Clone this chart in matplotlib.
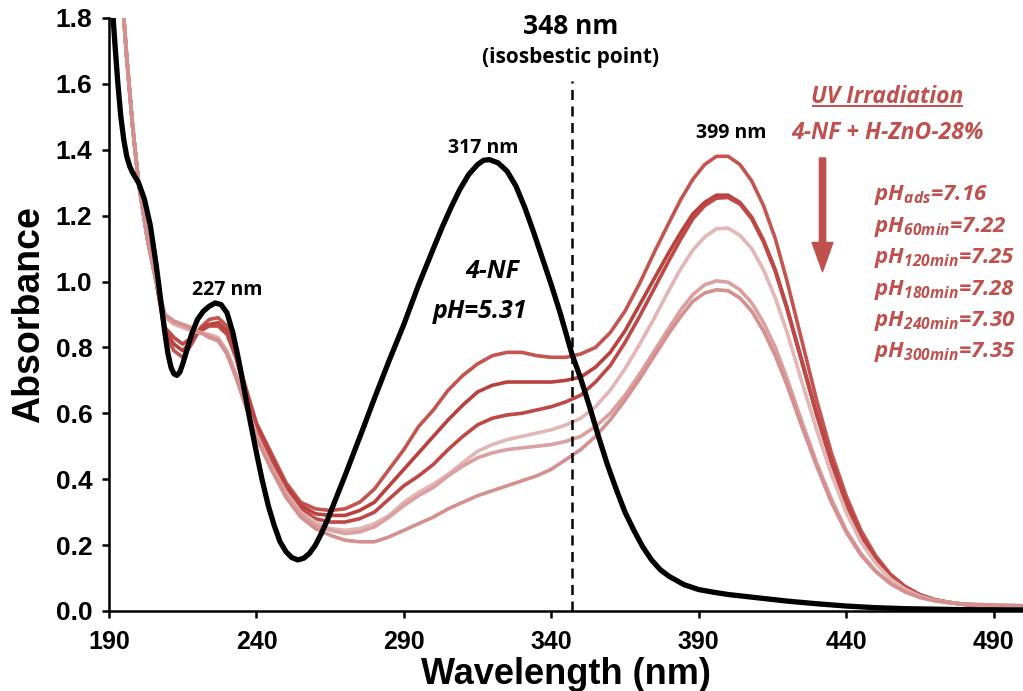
import numpy as np
import matplotlib
matplotlib.use("Agg")
import matplotlib.pyplot as plt

# ---------------- data ----------------
# 4-NF (pH 5.31)
wl_black = [190, 191, 192, 193, 194, 195, 196, 197, 198, 200, 202, 204, 206, 208, 209, 210, 211, 212, 213, 214,
            215, 216, 218, 220, 222, 224, 226, 228, 230, 232, 234, 236, 238, 240, 242, 244, 246, 248, 250, 252,
            254, 256, 258, 260, 262, 264, 266, 268, 270, 273, 276, 280, 285, 290, 295, 300, 303, 306, 309, 312,
            315, 317, 319, 322, 325, 328, 331, 334, 337, 340, 343, 347, 350, 353, 356, 359, 362, 365, 368, 371,
            374, 377, 380, 385, 390, 395, 400, 410, 420, 430, 440, 450, 460, 480, 500]
abs_black = [1.95, 1.85, 1.72, 1.60, 1.50, 1.43, 1.38, 1.35, 1.33, 1.30, 1.25, 1.17, 1.05, 0.91, 0.84, 0.78, 0.74, 0.72, 0.715, 0.725,
             0.75, 0.78, 0.84, 0.885, 0.91, 0.925, 0.935, 0.93, 0.905, 0.845, 0.76, 0.665, 0.57, 0.48, 0.395, 0.32, 0.26, 0.21, 0.18, 0.162,
             0.155, 0.16, 0.175, 0.20, 0.235, 0.275, 0.32, 0.365, 0.41, 0.48, 0.55, 0.645, 0.76, 0.87, 0.99, 1.10, 1.165, 1.225, 1.28, 1.325,
             1.355, 1.368, 1.37, 1.36, 1.335, 1.29, 1.225, 1.15, 1.07, 0.99, 0.905, 0.78, 0.705, 0.62, 0.53, 0.445, 0.37, 0.30, 0.245, 0.195,
             0.155, 0.125, 0.105, 0.08, 0.065, 0.057, 0.05, 0.04, 0.03, 0.022, 0.015, 0.01, 0.007, 0.004, 0.003]

# irradiated samples, common wavelength grid
wl = [190, 192, 194, 196, 198, 200, 203, 206, 209, 212, 215, 218, 221, 224, 227, 230, 233, 236,
      240, 245, 250, 255, 260, 265, 270, 275, 280, 285, 290, 295, 300, 305, 310, 315, 320, 325,
      330, 335, 340, 345, 350, 355, 360, 365, 370, 375, 380, 384, 388, 392, 396, 400, 404, 408,
      412, 416, 420, 425, 430, 435, 440, 445, 450, 455, 460, 465, 470, 475, 480, 490, 500]

abs_ads = [2.40, 2.15, 1.92, 1.68, 1.47, 1.30, 1.13, 1.00, 0.84, 0.79, 0.77, 0.81, 0.86, 0.885, 0.89, 0.865, 0.79, 0.69,
           0.57, 0.48, 0.39, 0.33, 0.31, 0.305, 0.31, 0.33, 0.37, 0.43, 0.49, 0.56, 0.61, 0.67, 0.715, 0.75, 0.775, 0.785,
           0.785, 0.775, 0.77, 0.77,
           0.78, 0.80, 0.845, 0.91, 0.995, 1.09, 1.18, 1.25, 1.31, 1.355, 1.38, 1.38, 1.355, 1.305,
           1.23, 1.13, 1.00, 0.82, 0.64, 0.48, 0.35, 0.245, 0.168, 0.112, 0.075, 0.05, 0.035, 0.026, 0.02, 0.015, 0.012]
abs_60 = [2.40, 2.15, 1.92, 1.68, 1.47, 1.30, 1.13, 1.00, 0.85, 0.81, 0.79, 0.82, 0.855, 0.87, 0.875, 0.85, 0.78, 0.68,
          0.565, 0.47, 0.38, 0.32, 0.295, 0.29, 0.29, 0.305, 0.33, 0.38, 0.43, 0.48, 0.53, 0.58, 0.625, 0.665, 0.685, 0.695,
          0.695, 0.695, 0.695, 0.70,
          0.71, 0.74, 0.785, 0.85, 0.93, 1.01, 1.09, 1.15, 1.205, 1.24, 1.262, 1.262, 1.24, 1.195,
          1.125, 1.035, 0.92, 0.76, 0.60, 0.455, 0.33, 0.23, 0.158, 0.105, 0.07, 0.047, 0.034, 0.026, 0.02, 0.015, 0.012]
abs_120 = [2.40, 2.15, 1.92, 1.68, 1.47, 1.30, 1.13, 1.00, 0.86, 0.83, 0.81, 0.83, 0.85, 0.865, 0.865, 0.84, 0.77, 0.67,
           0.555, 0.46, 0.37, 0.31, 0.28, 0.27, 0.27, 0.28, 0.30, 0.34, 0.38, 0.41, 0.445, 0.49, 0.53, 0.565, 0.585, 0.595,
           0.60, 0.61, 0.62, 0.635,
           0.655, 0.695, 0.745, 0.815, 0.895, 0.98, 1.065, 1.13, 1.19, 1.23, 1.253, 1.255, 1.235, 1.19,
           1.12, 1.03, 0.915, 0.755, 0.595, 0.45, 0.325, 0.225, 0.153, 0.102, 0.068, 0.046, 0.033, 0.026, 0.02, 0.015, 0.012]
abs_180 = [2.40, 2.15, 1.92, 1.68, 1.47, 1.30, 1.13, 1.00, 0.89, 0.87, 0.86, 0.85, 0.845, 0.84, 0.83, 0.79, 0.72, 0.64,
           0.535, 0.44, 0.36, 0.30, 0.27, 0.25, 0.245, 0.25, 0.265, 0.29, 0.33, 0.36, 0.385, 0.415, 0.45, 0.485, 0.505, 0.52,
           0.53, 0.54, 0.55, 0.565,
           0.585, 0.62, 0.67, 0.735, 0.81, 0.89, 0.975, 1.04, 1.095, 1.135, 1.16, 1.162, 1.14, 1.10,
           1.035, 0.95, 0.845, 0.695, 0.55, 0.415, 0.30, 0.21, 0.145, 0.098, 0.066, 0.045, 0.033, 0.026, 0.021, 0.016, 0.013]
abs_240 = [2.40, 2.15, 1.92, 1.68, 1.47, 1.30, 1.13, 1.00, 0.895, 0.875, 0.865, 0.855, 0.845, 0.835, 0.825, 0.785, 0.715, 0.635,
           0.53, 0.44, 0.355, 0.295, 0.26, 0.245, 0.235, 0.24, 0.255, 0.285, 0.32, 0.35, 0.375, 0.41, 0.44, 0.465, 0.48, 0.49,
           0.495, 0.50, 0.505, 0.515,
           0.53, 0.56, 0.60, 0.655, 0.72, 0.79, 0.86, 0.915, 0.96, 0.99, 1.002, 0.998, 0.975, 0.935,
           0.875, 0.80, 0.705, 0.575, 0.45, 0.34, 0.245, 0.175, 0.122, 0.085, 0.059, 0.042, 0.031, 0.025, 0.021, 0.018, 0.016]
abs_300 = [2.40, 2.15, 1.92, 1.68, 1.47, 1.30, 1.13, 1.00, 0.90, 0.88, 0.87, 0.86, 0.845, 0.83, 0.82, 0.78, 0.71, 0.63,
           0.525, 0.43, 0.345, 0.285, 0.25, 0.23, 0.215, 0.21, 0.21, 0.225, 0.245, 0.265, 0.285, 0.31, 0.33, 0.35, 0.365, 0.38,
           0.395, 0.41, 0.43, 0.46,
           0.49, 0.53, 0.58, 0.64, 0.705, 0.775, 0.845, 0.895, 0.94, 0.965, 0.975, 0.972, 0.95, 0.91,
           0.85, 0.775, 0.685, 0.56, 0.44, 0.33, 0.24, 0.17, 0.12, 0.083, 0.058, 0.041, 0.031, 0.025, 0.021, 0.018, 0.016]

series = [abs_ads, abs_60, abs_120, abs_180, abs_240, abs_300]
colors = ['#C4544F', '#B8413E', '#BD4845', '#E2B6B5', '#D9A09F', '#D4908E']
ph_labels = [r'pH$_{\mathregular{ads}}$=7.16', r'pH$_{\mathregular{60min}}$=7.22',
             r'pH$_{\mathregular{120min}}$=7.25', r'pH$_{\mathregular{180min}}$=7.28',
             r'pH$_{\mathregular{240min}}$=7.30', r'pH$_{\mathregular{300min}}$=7.35']

RED = '#C0504D'
TXT = 'Open Sans'

plt.rcParams['mathtext.fontset'] = 'custom'
plt.rcParams['mathtext.rm'] = 'Open Sans:italic:bold'
plt.rcParams['mathtext.it'] = 'Open Sans:italic:bold'

fig = plt.figure(figsize=(10.23, 6.91), dpi=100)
ax = fig.add_axes([0.1066, 0.1158, 0.8934, 0.8582])

for y, c in zip(series, colors):
    ax.plot(wl, y, color=c, lw=2.6, solid_joinstyle='round', solid_capstyle='round', zorder=2)
ax.plot(wl_black, abs_black, color='black', lw=3.8, solid_joinstyle='round', zorder=3)

ax.axvline(347, ymin=0, ymax=0.893, color='black', lw=1.8, ls=(0, (4, 2.6)), zorder=4)

ax.set_xlim(190, 500)
ax.set_ylim(0, 1.8)
ax.set_xticks(np.arange(190, 500, 50))
ax.set_yticks(np.arange(0, 1.81, 0.2))
ax.set_yticklabels([f'{v:.1f}' for v in np.arange(0, 1.81, 0.2)])
for s in ['top', 'right']:
    ax.spines[s].set_visible(False)
for s in ['left', 'bottom']:
    ax.spines[s].set_linewidth(1.8)
ax.tick_params(axis='both', direction='out', length=5, width=1.8)
ax.tick_params(axis='x', pad=9)
ax.tick_params(axis='y', pad=7)

for lab in ax.get_xticklabels():
    lab.set_fontfamily('Liberation Sans')
    lab.set_fontweight('bold')
    lab.set_fontsize(18)
for lab in ax.get_yticklabels():
    lab.set_fontfamily('Liberation Sans')
    lab.set_fontweight('bold')
    lab.set_fontsize(19)

ax.set_xlabel('Wavelength (nm)', fontsize=26, fontweight='bold', family='Liberation Sans', labelpad=2)
ax.set_ylabel('Absorbance', fontsize=27, fontweight='bold', family='Liberation Sans', labelpad=6)

# annotations
ax.text(346.5, 1.775, '348 nm', ha='center', va='center', fontsize=19, fontweight='bold', family=TXT)
ax.text(346.5, 1.68, '(isosbestic point)', ha='center', va='center', fontsize=15, fontweight='bold', family=TXT)
ax.text(317, 1.405, '317 nm', ha='center', va='center', fontsize=14, fontweight='bold', family=TXT)
ax.text(401, 1.45, '399 nm', ha='center', va='center', fontsize=14, fontweight='bold', family=TXT)
ax.text(230, 0.975, '227 nm', ha='center', va='center', fontsize=14, fontweight='bold', family=TXT)
ax.text(320, 1.03, '4-NF', ha='center', va='center', fontsize=18, fontweight='bold', style='italic', family=TXT)
ax.text(316, 0.91, 'pH=5.31', ha='center', va='center', fontsize=18, fontweight='bold', style='italic', family=TXT)

uv = ax.text(454, 1.56, 'UV Irradiation', ha='center', va='center', fontsize=16.5, fontweight='bold',
             style='italic', family=TXT, color=RED)
ax.text(454, 1.45, '4-NF + H-ZnO-28%', ha='center', va='center', fontsize=16.5, fontweight='bold',
        style='italic', family=TXT, color=RED)

# underline under "UV Irradiation"
fig.canvas.draw()
bb = uv.get_window_extent(fig.canvas.get_renderer())
x0, y0 = ax.transData.inverted().transform((bb.x0, bb.y0))
x1, _ = ax.transData.inverted().transform((bb.x1, bb.y0))
ax.plot([x0 + 0.5, x1 - 0.5], [y0 + 0.01, y0 + 0.01], color=RED, lw=1.4, clip_on=False)

ax.annotate('', xy=(432, 1.03), xytext=(432, 1.375),
            arrowprops=dict(width=4.5, headwidth=15, headlength=21, color=RED, shrink=0))

ph_y = [1.263, 1.166, 1.072, 0.975, 0.880, 0.786]
for yy, t in zip(ph_y, ph_labels):
    ax.text(449.3, yy, t, ha='left', va='center', fontsize=16, fontweight='bold', style='italic',
            family=TXT, color=RED)

fig.savefig('out.png', dpi=100)
